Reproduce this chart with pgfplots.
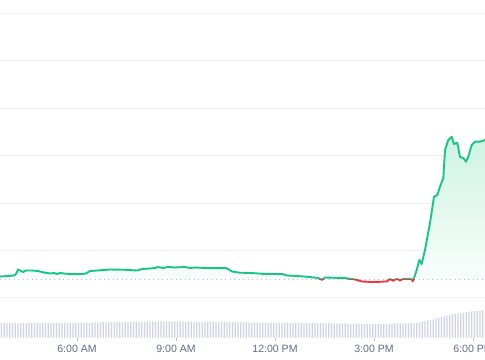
\documentclass[border=0pt]{standalone}
\usepackage{pgfplots}
\pgfplotsset{compat=1.18}
\usepackage{pgfplotstable}
\usepackage{fontspec}
\setmainfont{Liberation Sans}
\definecolor{upgreen}{RGB}{22,199,132}
\definecolor{downred}{RGB}{234,57,67}
\definecolor{gridc}{RGB}{239,242,245}
\definecolor{barc}{RGB}{206,211,228}
\definecolor{labc}{RGB}{96,106,128}
\definecolor{tickc}{RGB}{185,190,200}
\definecolor{dotc}{RGB}{185,190,202}
\definecolor{filltop}{RGB}{206,243,228}
\definecolor{fillbot}{RGB}{250,254,252}

\pgfplotstableread{
x y
3.667 83.5
3.909 84
4.091 84.5
4.152 86
4.212 90.5
4.303 89
4.364 88
4.455 89.5
4.636 89.5
4.818 89
5.000 87.5
5.182 86.5
5.303 87
5.394 86
5.485 87
5.606 86.5
5.788 86
6.091 85.8
6.273 86.5
6.394 89
6.545 89.3
7.000 90.5
7.455 90.2
7.818 89.5
7.970 91
8.212 91.5
8.364 92
8.455 93
8.606 92
8.758 93
8.970 92.5
9.273 93
9.424 92
9.576 92.5
9.879 92
10.182 91.8
10.515 92
10.576 91
10.697 88.5
10.939 87.3
11.242 87
11.424 86.7
11.697 86
12.000 86
12.242 85.8
12.364 84.5
12.758 83.8
13.061 83
13.303 82
13.424 80.2
13.515 82.5
13.818 82.2
14.121 82
14.424 80.5
14.636 78.5
14.939 78
15.182 78.2
15.394 78.6
15.485 81
15.576 79.2
15.697 81.2
15.788 79.5
15.879 81
16.030 81.2
16.121 81
16.182 78.8
16.294 90
16.373 100
16.445 96
16.545 110
16.697 137
16.818 163.3
16.918 165
17.000 173.3
17.100 182
17.152 210
17.252 220
17.355 223.3
17.424 216
17.524 217.3
17.606 203
17.706 202
17.788 198.3
17.858 203.3
17.961 215
18.061 218.3
18.212 218.3
18.364 220
}\price

\pgfplotstableread{
x y
3.667 83.5
3.909 84
4.091 84.5
4.152 86
4.212 90.5
4.303 89
4.364 88
4.455 89.5
4.636 89.5
4.818 89
5.000 87.5
5.182 86.5
5.303 87
5.394 86
5.485 87
5.606 86.5
5.788 86
6.091 85.8
6.273 86.5
6.394 89
6.545 89.3
7.000 90.5
7.455 90.2
7.818 89.5
7.970 91
8.212 91.5
8.364 92
8.455 93
8.606 92
8.758 93
8.970 92.5
9.273 93
9.424 92
9.576 92.5
9.879 92
10.182 91.8
10.515 92
10.576 91
10.697 88.5
10.939 87.3
11.242 87
11.424 86.7
11.697 86
12.000 86
12.242 85.8
12.364 84.5
12.758 83.8
13.061 83
13.303 82
13.424 80.2
13.515 82.5
13.818 82.2
14.121 82
14.424 80.5
14.636 78.5
14.939 78
15.182 78.2
15.394 78.6
15.485 81
15.576 79.2
15.697 81.2
15.788 79.5
15.879 81
16.030 81.2
16.121 81
16.182 78.8
16.294 90
16.373 100
16.445 96
16.545 110
16.697 137
16.818 163.3
16.918 165
17.000 173.3
17.100 182
17.152 210
17.252 220
17.355 223.3
17.424 216
17.524 217.3
17.606 203
17.706 202
17.788 198.3
17.858 203.3
17.961 215
18.061 218.3
18.212 218.3
18.364 220
18.364 80.5
3.667 80.5
}\area

\begin{document}
\begin{tikzpicture}
% volume bars
\begin{axis}[
  at={(0,22.5bp)}, anchor=south west, scale only axis,
  width=485bp, height=337.5bp,
  xmin=-0.545, xmax=175.82, ymin=0, ymax=337.5,
  axis lines=none, clip=true]
\addplot[ybar, bar width=1.1bp, fill=barc, draw=none] coordinates {
(0,14.5)(1,14.8)(2,14.3)(3,14.6)(4,14.9)(5,14.5)(6,14.2)(7,14.7)(8,14.6)(9,14.4)
(10,14.8)(11,14.5)(12,14.6)(13,14.3)(14,14.7)(15,14.9)(16,14.5)(17,14.4)(18,14.6)(19,14.8)
(20,14.5)(21,14.7)(22,14.4)(23,14.6)(24,14.9)(25,14.8)(26,14.5)(27,14.6)(28,14.7)(29,15.0)
(30,14.8)(31,15.1)(32,14.9)(33,15.2)(34,15.0)(35,14.8)(36,15.1)(37,15.3)(38,15.0)(39,15.2)
(40,15.4)(41,15.1)(42,15.3)(43,15.5)(44,15.2)(45,15.6)(46,15.4)(47,15.7)(48,15.5)(49,15.8)
(50,15.6)(51,15.9)(52,15.7)(53,16.0)(54,15.8)(55,16.1)(56,15.9)(57,16.2)(58,16.0)(59,15.8)
(60,16.1)(61,15.9)(62,16.2)(63,16.0)(64,15.8)(65,16.1)(66,15.9)(67,15.7)(68,16.0)(69,15.8)
(70,15.6)(71,15.9)(72,15.7)(73,15.5)(74,15.8)(75,15.6)(76,15.4)(77,15.7)(78,15.5)(79,15.3)
(80,15.6)(81,15.4)(82,15.2)(83,15.5)(84,15.3)(85,15.1)(86,15.4)(87,15.2)(88,15.0)(89,15.3)
(90,15.1)(91,14.9)(92,15.2)(93,15.0)(94,14.8)(95,15.1)(96,14.9)(97,14.7)(98,15.0)(99,14.8)
(100,14.6)(101,14.9)(102,14.7)(103,14.5)(104,14.8)(105,14.6)(106,14.4)(107,14.7)(108,14.5)(109,14.3)
(110,14.6)(111,14.4)(112,14.2)(113,14.5)(114,14.3)(115,14.1)(116,14.4)(117,14.2)(118,14.0)(119,14.3)
(120,14.1)(121,13.9)(122,14.2)(123,14.0)(124,13.8)(125,14.1)(126,13.9)(127,13.7)(128,14.0)(129,13.8)
(130,13.6)(131,13.9)(132,13.7)(133,13.5)(134,13.8)(135,13.6)(136,13.4)(137,13.7)(138,13.5)(139,13.8)
(140,13.6)(141,13.9)(142,13.7)(143,14.0)(144,13.8)(145,14.1)(146,13.9)(147,14.2)(148,14.0)(149,14.3)
(150,14.2)(151,14.6)(152,15.0)(153,15.8)(154,16.5)(155,17.2)(156,17.6)(157,18.2)(158,18.8)(159,19.6)
(160,20.3)(161,21.0)(162,21.8)(163,22.5)(164,23.1)(165,23.6)(166,24.0)(167,24.5)(168,24.9)(169,25.3)
(170,25.7)(171,26.0)(172,26.4)(173,26.7)(174,26.9)(175,27.1)
};
\end{axis}
% price
\begin{axis}[
  at={(0,22.5bp)}, anchor=south west, scale only axis,
  width=485bp, height=337.5bp,
  xmin=3.6667, xmax=18.3636, ymin=22.5, ymax=360,
  axis line style={draw=none},
  ytick={62.5,110,157,204.5,252,299.5,347},
  yticklabels={},
  ymajorgrids,
  grid style={color=gridc, line width=0.9bp},
  ytick style={draw=none},
  xtick={6,9,12,15,18},
  xticklabels={6:00 AM,9:00 AM,12:00 PM,3:00 PM,6:00 PM},
  xtick pos=bottom,
  tick align=outside,
  major tick length=3.5bp,
  xtick style={color=tickc, line width=0.8bp},
  xticklabel style={font=\fontsize{10.6}{12}\selectfont, text=labc, anchor=base, yshift=-11.7bp},
  clip=true]
\begin{scope}
\clip (axis cs:3,80.5) rectangle (axis cs:19,400);
\addplot[draw=none, top color=filltop, bottom color=fillbot] table {\area};
\end{scope}
\addplot[color=dotc, line width=0.9bp, dash pattern=on 1bp off 3.5bp] coordinates {(3.6667,80.5) (18.3636,80.5)};
\begin{scope}
\clip (axis cs:3,80.5) rectangle (axis cs:19,400);
\addplot[color=upgreen, line width=1.9bp, line join=round] table {\price};
\end{scope}
\begin{scope}
\clip (axis cs:3,0) rectangle (axis cs:19,80.5);
\addplot[color=downred, line width=1.9bp, line join=round] table {\price};
\end{scope}
\end{axis}
\pgfresetboundingbox
\path[use as bounding box] (0,0) rectangle (485bp,360bp);
\end{tikzpicture}
\end{document}
